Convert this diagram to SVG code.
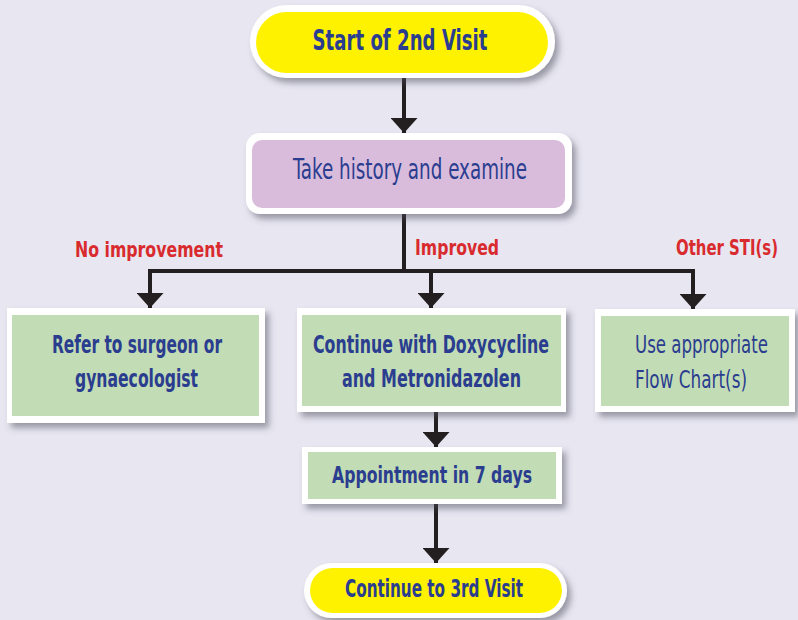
<svg xmlns="http://www.w3.org/2000/svg" width="798" height="620" viewBox="0 0 798 620">
<style>
.t{font-family:"Liberation Sans Narrow","DejaVu Sans Condensed","Liberation Sans",sans-serif;fill:#2a3d8f;text-anchor:middle}
.b{font-weight:bold}
.lbl{font-family:"Liberation Sans Narrow","DejaVu Sans Condensed","Liberation Sans",sans-serif;fill:#d92a2e;font-weight:bold;font-size:21px}
.out{fill:#ffffff;filter:url(#sh)}
.yel{fill:#fff200}
.pur{fill:#d9bcdc}
.grn{fill:#c2dcb5}
.con{stroke:#231f20;stroke-width:4;fill:none;stroke-linecap:butt}
</style>
<defs>
<filter id="sh" x="-10%" y="-20%" width="125%" height="150%">
<feDropShadow dx="4" dy="5" stdDeviation="3" flood-color="#4a4a5a" flood-opacity="0.5"/>
</filter>
<marker id="ah" viewBox="0 0 15 27" refX="15" refY="13.5" markerWidth="15" markerHeight="27" markerUnits="userSpaceOnUse" orient="auto">
<path d="M0,0 L15,13.5 L0,27 z" fill="#231f20"/>
</marker>
</defs>
<rect width="798" height="620" fill="#e7e6f1"/>
<g id="connectors">
<path class="con" d="M404 78 V133" marker-end="url(#ah)"/>
<path class="con" d="M404 214 V271"/>
<path class="con" d="M148 271 H695"/>
<path class="con" d="M150 271 V308" marker-end="url(#ah)"/>
<path class="con" d="M431 271 V308" marker-end="url(#ah)"/>
<path class="con" d="M693 271 V309" marker-end="url(#ah)"/>
<path class="con" d="M436 412 V447" marker-end="url(#ah)"/>
<path class="con" d="M436 504 V563" marker-end="url(#ah)"/>
</g>
<g id="labels">
<text class="lbl" x="75" y="257" textLength="148" lengthAdjust="spacingAndGlyphs">No improvement</text>
<text class="lbl" x="415" y="255" textLength="84" lengthAdjust="spacingAndGlyphs">Improved</text>
<text class="lbl" x="778" y="255" style="text-anchor:end" textLength="102" lengthAdjust="spacingAndGlyphs">Other STI(s)</text>
</g>
<g id="start">
<rect class="out" x="250" y="5" width="305" height="73" rx="36.5"/>
<rect class="yel" x="256" y="12" width="292" height="61" rx="30.5"/>
<text class="t b" x="400" y="50" font-size="28" textLength="175" lengthAdjust="spacingAndGlyphs">Start of 2nd Visit</text>
</g>
<g id="history">
<rect class="out" x="246" y="133" width="326" height="81" rx="14"/>
<rect class="pur" x="252" y="140" width="313" height="68" rx="10"/>
<text class="t" x="410" y="179" font-size="28" textLength="234" lengthAdjust="spacingAndGlyphs">Take history and examine</text>
</g>
<g id="refer">
<rect class="out" x="7" y="308" width="258" height="115"/>
<rect class="grn" x="12" y="315" width="247" height="101"/>
<text class="t b" x="137" y="353" font-size="24" textLength="170" lengthAdjust="spacingAndGlyphs">Refer to surgeon or</text>
<text class="t b" x="136.5" y="387" font-size="24" textLength="123" lengthAdjust="spacingAndGlyphs">gynaecologist</text>
</g>
<g id="continue">
<rect class="out" x="297" y="308" width="269" height="104"/>
<rect class="grn" x="302" y="315" width="259" height="91"/>
<text class="t b" x="431" y="353" font-size="24" textLength="236" lengthAdjust="spacingAndGlyphs">Continue with Doxycycline</text>
<text class="t b" x="431.5" y="387" font-size="24" textLength="179" lengthAdjust="spacingAndGlyphs">and Metronidazolen</text>
</g>
<g id="other">
<rect class="out" x="595" y="309" width="200" height="103"/>
<rect class="grn" x="601" y="316" width="188" height="90"/>
<text class="t" x="768" y="353" font-size="25" style="text-anchor:end" textLength="133" lengthAdjust="spacingAndGlyphs">Use appropriate</text>
<text class="t" x="747" y="388" font-size="25" style="text-anchor:end" textLength="112" lengthAdjust="spacingAndGlyphs">Flow Chart(s)</text>
</g>
<g id="appointment">
<rect class="out" x="302" y="447" width="260" height="57"/>
<rect class="grn" x="308" y="452" width="248" height="47"/>
<text class="t b" x="432" y="483" font-size="23" textLength="200" lengthAdjust="spacingAndGlyphs">Appointment in 7 days</text>
</g>
<g id="end">
<rect class="out" x="304" y="563" width="263" height="55" rx="27.5"/>
<rect class="yel" x="310" y="568" width="252" height="45" rx="22.5"/>
<text class="t b" x="434" y="597" font-size="24" textLength="178" lengthAdjust="spacingAndGlyphs">Continue to 3rd Visit</text>
</g>
</svg>
